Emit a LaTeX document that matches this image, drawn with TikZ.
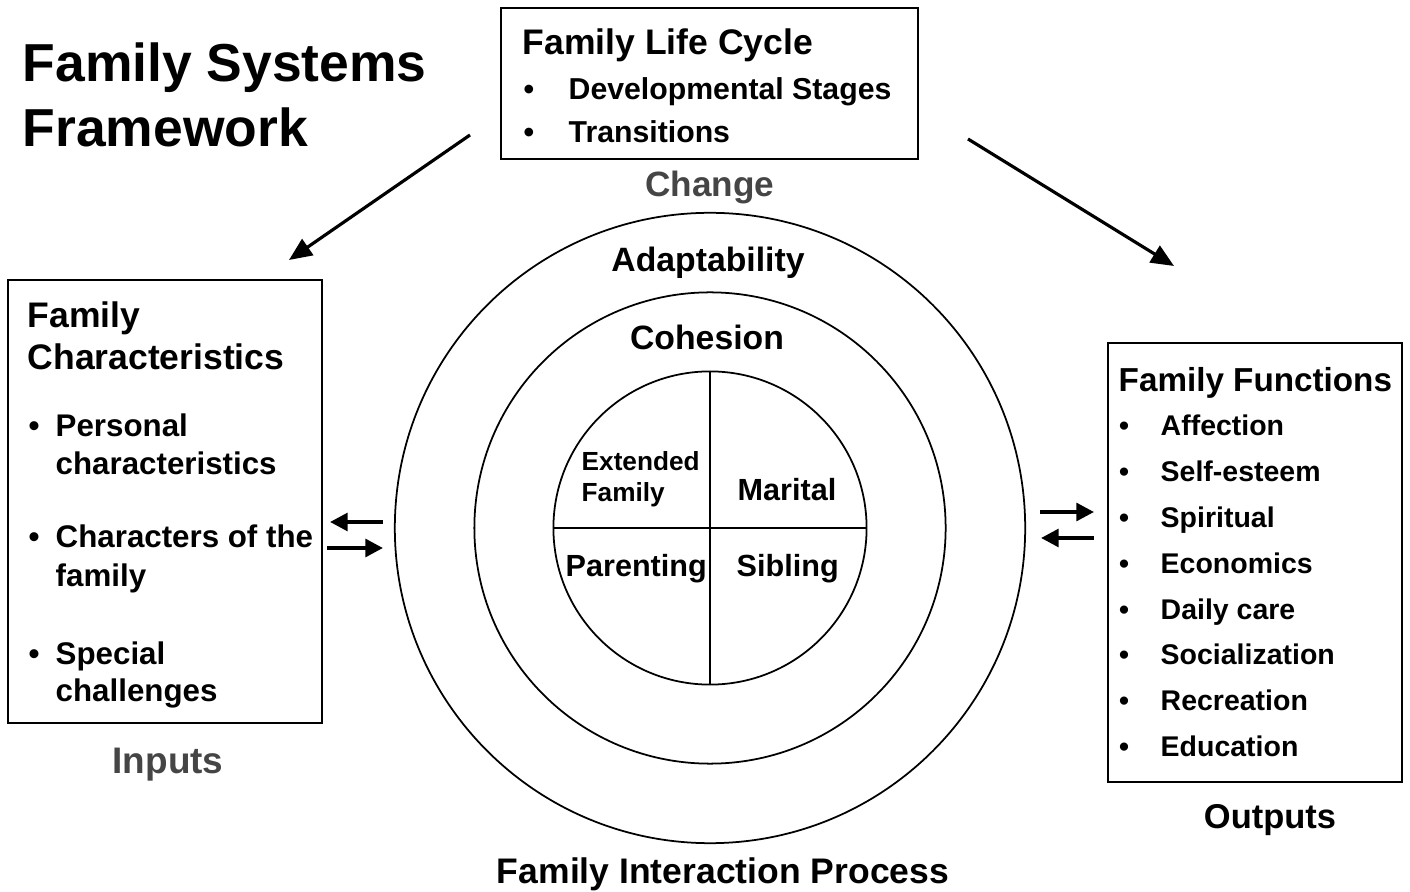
\documentclass[tikz,border=0pt]{standalone}
\usepackage{fontspec}
\setmainfont{Liberation Sans}
\usetikzlibrary{arrows.meta}
\definecolor{labelgray}{gray}{0.27}
\newcommand{\fsz}[1]{\fontsize{#1}{#1}\selectfont}

\begin{document}
\begin{tikzpicture}[x=0.01cm, y=-0.01cm,
	txt/.style={inner sep=0pt, anchor=base west},
	mid/.style={inner sep=0pt, anchor=base},
	bul/.style={inner sep=0pt, anchor=base},
	frame/.style={draw, line width=0.6pt},
	ring/.style={draw, circle, inner sep=0pt, line width=0.5pt},
	flow/.style={line width=0.9pt, -{Triangle[length=6.5pt,width=5.5pt]}},
	duplex/.style={line width=1.1pt, -{Triangle[length=5pt,width=5pt]}}]
	\useasboundingbox (0,0) rectangle (1410,892);
	% title
	\node[txt, font=\bfseries\fsz{15.2}] (title1) at (22,82) {Family Systems};
	\node[txt, font=\bfseries\fsz{15.2}] (title2) at (22,147) {Framework};
	% life cycle
	\draw[frame] (501,8) rectangle (918,159);
	\node[txt, font=\bfseries\fsz{10.1}] (cycle) at (522,55) {Family Life Cycle};
	\foreach \t/\y [count=\i] in {Developmental Stages/100, Transitions/143} {
		\node[bul, font=\bfseries\fsz{8.6}] (cb\i) at (529,\y) {\textbullet};
		\node[txt, font=\bfseries\fsz{8.6}] (ci\i) at (568,\y) {\t};
	}
	\node[mid, font=\bfseries\fsz{10}, text=labelgray] (change) at (710,197) {Change};
	\coordinate (ltail) at (470,135);
	\coordinate (lhead) at (289,260);
	\coordinate (rtail) at (968,139);
	\coordinate (rhead) at (1174,266);
	\draw[flow] (ltail) -- (lhead);
	\draw[flow] (rtail) -- (rhead);
	% inputs
	\draw[frame] (8,280) rectangle (322,723);
	\node[txt, font=\bfseries\fsz{10.1}] (char1) at (27,328) {Family};
	\node[txt, font=\bfseries\fsz{10.1}] (char2) at (27,370) {Characteristics};
	\foreach \a/\b/\y/\z [count=\i] in {Personal/characteristics/437/475, Characters of the/family/548/587, Special/challenges/665/702} {
		\node[bul, font=\bfseries\fsz{8.9}] (pb\i) at (34,\y) {\textbullet};
		\node[txt, font=\bfseries\fsz{8.9}] (pa\i) at (55,\y) {\a};
		\node[txt, font=\bfseries\fsz{8.9}] (pz\i) at (55,\z) {\b};
	}
	\node[mid, font=\bfseries\fsz{10.5}, text=labelgray] (inputs) at (168,773) {Inputs};
	% interaction process
	\node[ring, minimum size=6.3cm] (adapt) at (710,528) {};
	\node[ring, minimum size=4.71cm] (cohes) at (710,528) {};
	\node[ring, minimum size=3.13cm] (sub) at (710,528) {};
	\draw[line width=0.6pt] (sub.north) -- (sub.south);
	\draw[line width=0.6pt] (sub.west) -- (sub.east);
	\node[mid, font=\bfseries\fsz{9.6}] (adaptlbl) at (708,272) {Adaptability};
	\node[mid, font=\bfseries\fsz{9.6}] (coheslbl) at (707,350) {Cohesion};
	\node[txt, font=\bfseries\fsz{7.45}] (ext1) at (581,471) {Extended};
	\node[txt, font=\bfseries\fsz{7.45}] (ext2) at (581,502) {Family};
	\node[txt, font=\bfseries\fsz{8.7}] (marital) at (737,501) {Marital};
	\node[txt, font=\bfseries\fsz{8.7}] (parent) at (565,577) {Parenting};
	\node[txt, font=\bfseries\fsz{8.7}] (sibling) at (736,577) {Sibling};
	\node[mid, font=\bfseries\fsz{10.1}] (process) at (723,883) {Family Interaction Process};
	\coordinate (li1) at (383,522);
	\coordinate (li2) at (330,522);
	\coordinate (li3) at (327,548);
	\coordinate (li4) at (383,548);
	\draw[duplex] (li1) -- (li2);
	\draw[duplex] (li3) -- (li4);
	\coordinate (ro1) at (1040,512);
	\coordinate (ro2) at (1094,512);
	\coordinate (ro3) at (1094,538);
	\coordinate (ro4) at (1041,538);
	\draw[duplex] (ro1) -- (ro2);
	\draw[duplex] (ro3) -- (ro4);
	% outputs
	\draw[frame] (1108,343) rectangle (1402,782);
	\node[txt, font=\bfseries\fsz{9.45}] (func) at (1118,392) {Family Functions};
	\foreach \t [count=\i from 0] in {Affection, Self-esteem, Spiritual, Economics, Daily care, Socialization, Recreation, Education} {
		\pgfmathsetmacro{\y}{436+45.8*\i}
		\node[bul, font=\bfseries\fsz{8.1}] (fb\i) at (1124,\y) {\textbullet};
		\node[txt, font=\bfseries\fsz{8.1}] (fi\i) at (1160,\y) {\t};
	}
	\node[mid, font=\bfseries\fsz{9.8}] (outputs) at (1270,828) {Outputs};
\end{tikzpicture}
\end{document}
